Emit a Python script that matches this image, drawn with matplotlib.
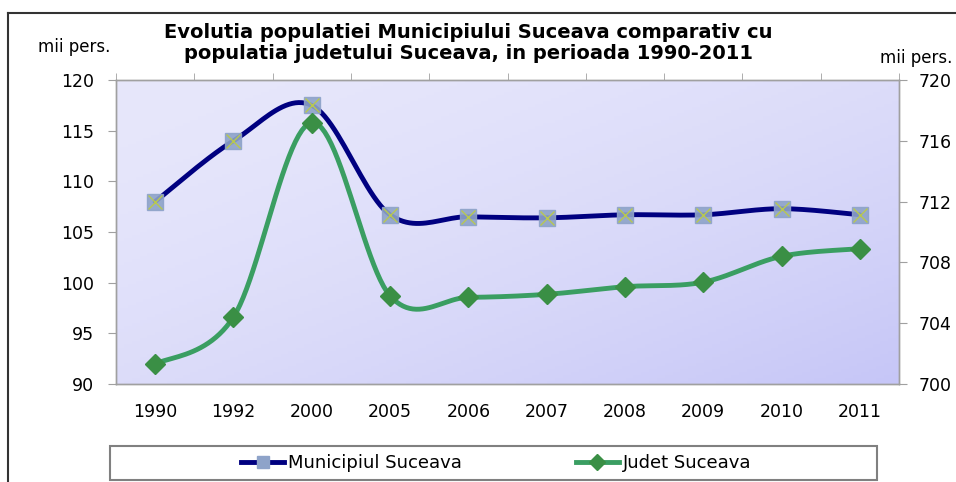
import numpy as np
import matplotlib
matplotlib.use("Agg")
import matplotlib.pyplot as plt
from matplotlib.lines import Line2D

# data (thousands of persons)
years = ["1990", "1992", "2000", "2005", "2006", "2007", "2008", "2009", "2010", "2011"]
municipiu = [108.0, 114.0, 117.5, 106.7, 106.5, 106.4, 106.7, 106.7, 107.3, 106.7]
judet = [701.3, 704.4, 717.2, 705.8, 705.7, 705.9, 706.4, 706.7, 708.4, 708.9]

left_ticks = [90, 95, 100, 105, 110, 115, 120]
right_ticks = [700, 704, 708, 712, 716, 720]

plt.rcParams['font.family'] = ['DejaVu Sans']


def smooth(xs, ys, n=25):
    # Catmull-Rom curve through the points, like Excel's "smoothed line"
    pts = np.column_stack([xs, ys]).astype(float)
    p = np.vstack([pts[0], pts, pts[-1]])
    t = np.linspace(0, 1, n)[:, None]
    out = []
    for i in range(len(pts) - 1):
        p0, p1, p2, p3 = p[i], p[i + 1], p[i + 2], p[i + 3]
        seg = 0.5 * (2 * p1 + (-p0 + p2) * t
                     + (2 * p0 - 5 * p1 + 4 * p2 - p3) * t ** 2
                     + (-p0 + 3 * p1 - 3 * p2 + p3) * t ** 3)
        out.append(seg if i == 0 else seg[1:])
    out = np.vstack(out)
    return out[:, 0], out[:, 1]


fig = plt.figure(figsize=(9.56, 4.82), dpi=100)
ax = fig.add_axes([116 / 956, 1 - 384 / 482, 783 / 956, 304 / 482])
ax2 = ax.twinx()

x = np.arange(len(years))

# lavender gradient background, light top-left to slightly darker bottom-right
gx, gy = np.meshgrid(np.linspace(0, 1, 200), np.linspace(1, 0, 100))
g = (gx * 0.5 + (1 - gy) * 0.5) ** 1.6
top = np.array([231, 231, 251]) / 255
bot = np.array([198, 198, 247]) / 255
img = top[None, None, :] * (1 - g[..., None]) + bot[None, None, :] * g[..., None]
ax.imshow(img, extent=[-0.5, len(years) - 0.5, 90, 120], aspect='auto', zorder=0)

# Municipiul Suceava
sx, sy = smooth(x, municipiu)
ax.plot(sx, sy, color='#000080', lw=3.5, zorder=3, solid_capstyle='round')
ax.plot(x, municipiu, ls='none', marker='s', ms=12, mfc='#8ea3c9', mec='#8ea3c9',
        alpha=0.9, zorder=4)
ax.plot(x, municipiu, ls='none', marker='x', ms=10, mec='#b8c850', mew=1.0, zorder=5)

# Judet Suceava
jx, jy = smooth(x, judet)
ax2.plot(jx, jy, color='#3a9e62', lw=3.5, zorder=3, solid_capstyle='round')
ax2.plot(x, judet, ls='none', marker='D', ms=10, mfc='#3a8f45', mec='#3a8f45', zorder=4)

ax.set_xlim(-0.5, len(years) - 0.5)
ax.set_ylim(90, 120)
ax2.set_ylim(700, 720)
ax.set_yticks(left_ticks)
ax2.set_yticks(right_ticks)
ax.set_xticks(x)
ax.set_xticklabels(years)
ax.set_xticks(np.arange(len(years) + 1) - 0.5, minor=True)

axis_col = '#a0a0a0'
for a in (ax, ax2):
    for s in a.spines.values():
        s.set_color(axis_col)
        s.set_linewidth(1.0)
ax.tick_params(axis='x', which='major', length=0, pad=14, labelsize=12.5)
ax.tick_params(axis='x', which='minor', bottom=False, top=True, direction='out',
               length=5, color=axis_col)
ax.tick_params(axis='y', length=6, color=axis_col, labelsize=12.5, pad=10)
ax2.tick_params(axis='y', length=6, color=axis_col, labelsize=12.5, pad=8)
ax2.set_zorder(ax.get_zorder() + 1)
ax2.patch.set_visible(False)

# titles and axis units
fig.text(468 / 956, 1 - 43 / 482, "Evolutia populatiei Municipiului Suceava comparativ cu\n"
         "populatia judetului Suceava, in perioada 1990-2011",
         ha='center', va='center', fontsize=14, fontweight='bold', linespacing=1.15)
fig.text(74 / 956, 1 - 47 / 482, "mii pers.", ha='center', va='center', fontsize=12)
fig.text(916 / 956, 1 - 58 / 482, "mii pers.", ha='center', va='center', fontsize=12)

# outer chart border
fig.add_artist(Line2D([8 / 956, 1], [1 - 12.5 / 482] * 2, transform=fig.transFigure,
                      color='#333333', lw=1.5))
fig.add_artist(Line2D([8 / 956] * 2, [0, 1 - 12.5 / 482], transform=fig.transFigure,
                      color='#333333', lw=1.5))

# legend box
box = plt.Rectangle((110 / 956, 1 - 480 / 482), 767 / 956, 34 / 482,
                    transform=fig.transFigure, fill=False, ec='#808080', lw=1.5)
fig.add_artist(box)
h1 = (Line2D([], [], color='#000080', lw=3.5),
      Line2D([], [], ls='none', marker='s', ms=9, mfc='#8ea3c9', mec='#8ea3c9'))
h2 = Line2D([], [], color='#3a9e62', lw=3.5, marker='D', ms=8, mfc='#3a8f45', mec='#3a8f45')
fig.legend([h1, h2], ["Municipiul Suceava", "Judet Suceava"], loc='center',
           bbox_to_anchor=(496 / 956, 1 - 463 / 482), ncol=2, frameon=False, fontsize=13,
           handlelength=2.4, handletextpad=0.2, columnspacing=6.3)

fig.savefig("out.png", dpi=100)
